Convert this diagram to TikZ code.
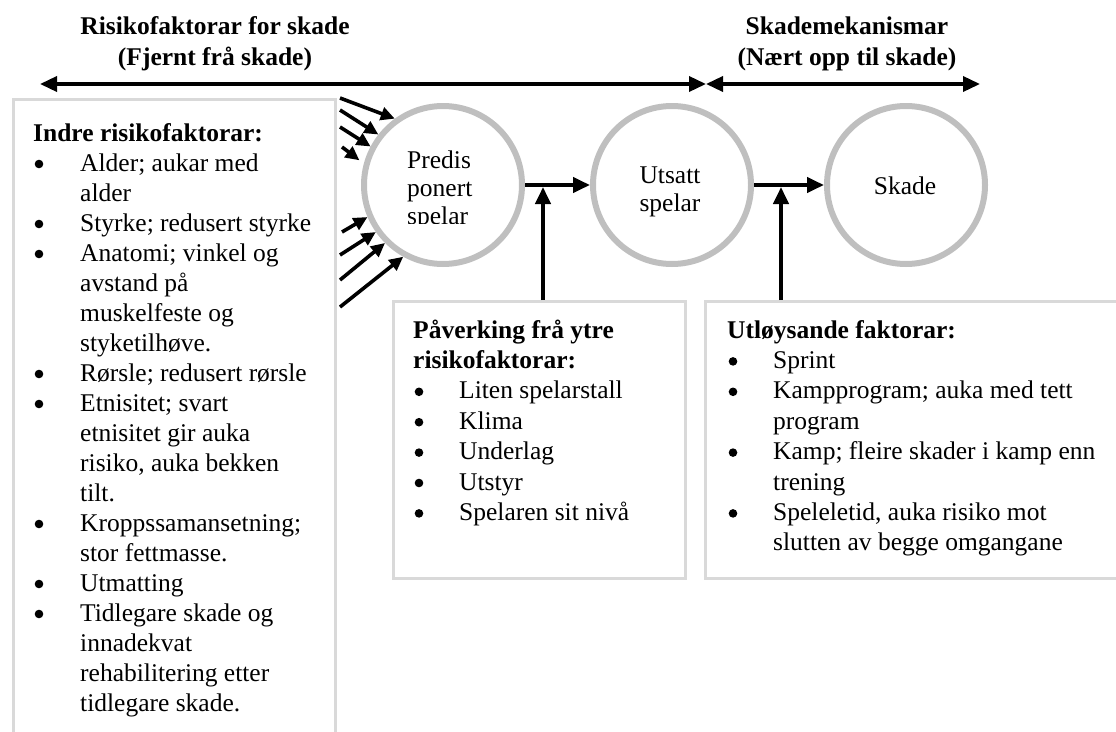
\documentclass[tikz,border=0pt]{standalone}
\usepackage{fontspec}
\setmainfont{Liberation Serif}
\usetikzlibrary{arrows.meta,calc}
\definecolor{boxgray}{RGB}{217,217,217}
\definecolor{circgray}{RGB}{191,191,191}
\begin{document}
\begin{tikzpicture}[x=1pt,y=-1pt,
  gbox/.style={draw=boxgray, line width=3pt, inner sep=0pt, anchor=north west},
  circ/.style={circle, draw=circgray, line width=6pt, minimum size=158pt, inner sep=0pt},
  bigarrow/.style={line width=4pt, -{Triangle[length=17pt,width=15pt]}},
  smallarrow/.style={line width=3.6pt, -{Triangle[length=14pt,width=13pt]}},
  toparrow/.style={line width=3.5pt, {Triangle[length=17pt,width=15pt]}-{Triangle[length=17pt,width=15pt]}},
  txt/.style={inner sep=0pt, font=\fontsize{25.5}{30}\selectfont},
  hdr/.style={inner sep=0pt, font=\fontsize{25.5}{31}\selectfont\bfseries, anchor=base},
  bulletdot/.style={fill=black},
]
\useasboundingbox (0,0) rectangle (1116,731);
\clip (0,0) rectangle (1116,731);

% headers
\node[hdr] (h1) at (215,34) {\begin{tabular}[t]{@{}c@{}}Risikofaktorar for skade\\(Fjernt frå skade)\end{tabular}};
\node[hdr] (h2) at (847,34) {\begin{tabular}[t]{@{}c@{}}Skademekanismar\\(Nært opp til skade)\end{tabular}};

% top arrows
\coordinate (L) at (40,84);
\coordinate (M) at (706,84);
\coordinate (R) at (980,84);
\draw[toparrow] (L) -- (M);
\draw[toparrow] (M) -- (R);

% boxes
\node[gbox, minimum width=322pt, minimum height=700pt] (inner) at (12,98) {};
\node[gbox, minimum width=292pt, minimum height=277pt] (ext) at (392,300) {};
\node[gbox, minimum width=440pt, minimum height=277pt] (trig) at (704,300) {};

% circles
\node[circ] (c1) at (443,185) {};
\node[circ] (c2) at (672,185) {};
\node[circ] (c3) at (906,185) {};

% circle texts
\begin{scope}
\clip (380,120) rectangle (510,223);
\node[inner sep=0pt, anchor=base west, font=\fontsize{25.5}{28}\selectfont] (t1) at (407,168)
  {\begin{tabular}[t]{@{}l@{}}Predis\\ponert\\spelar\end{tabular}};
\end{scope}
\node[inner sep=0pt, anchor=base, font=\fontsize{25.5}{28}\selectfont] (t2) at (670,183)
  {\begin{tabular}[t]{@{}c@{}}Utsatt\\spelar\end{tabular}};
\node[txt] (t3) at (905,186) {Skade};

% arrows between circles
\coordinate (j1) at (543,187);
\coordinate (j2) at (781,187);
\draw[bigarrow] (c1.east) -- (c2.west);
\draw[bigarrow] (c2.east) -- (c3.west);
\draw[bigarrow] (ext.north -| j1) -- (j1);
\draw[bigarrow] (trig.north -| j2) -- (j2);

% small arrows into circle 1
\coordinate (s1) at (340,98);
\coordinate (s2) at (340,110);
\coordinate (s3) at (340,127);
\coordinate (s4) at (342,147);
\coordinate (s5) at (342,232);
\coordinate (s6) at (340,255);
\coordinate (s7) at (340,280);
\coordinate (s8) at (340,307);
\draw[smallarrow] (s1) -- (c1.126);
\draw[smallarrow] (s2) -- (c1.142);
\draw[smallarrow] (s3) -- (c1.152);
\draw[smallarrow] (s4) -- ($(c1.161)+(-6,2)$);
\draw[smallarrow] (s5) -- (c1.203);
\draw[smallarrow] (s6) -- (c1.215);
\draw[smallarrow] (s7) -- (c1.225);
\draw[smallarrow] (s8) -- (c1.241);

% box texts
\node[txt, anchor=base west] (innertxt) at (33,141) {\begin{tabular}[t]{@{}p{47pt}@{}l@{}}
\multicolumn{2}{@{}l@{}}{\bfseries Indre risikofaktorar:}\\
 & Alder; aukar med\\
 & alder\\
 & Styrke; redusert styrke\\
 & Anatomi; vinkel og\\
 & avstand på\\
 & muskelfeste og\\
 & styketilhøve.\\
 & Rørsle; redusert rørsle\\
 & Etnisitet; svart\\
 & etnisitet gir auka\\
 & risiko, auka bekken\\
 & tilt.\\
 & Kroppssamansetning;\\
 & stor fettmasse.\\
 & Utmatting\\
 & Tidlegare skade og\\
 & innadekvat\\
 & rehabilitering etter\\
 & tidlegare skade.
\end{tabular}};
\foreach \r in {1,3,4,8,9,13,15,16}
  \fill[bulletdot] (39,{141+30*\r-7}) circle (4.3);

\node[txt, anchor=base west, font=\fontsize{25.5}{30.4}\selectfont] (exttxt) at (413,338) {\begin{tabular}[t]{@{}p{46pt}@{}l@{}}
\multicolumn{2}{@{}l@{}}{\bfseries Påverking frå ytre}\\
\multicolumn{2}{@{}l@{}}{\bfseries risikofaktorar:}\\
 & Liten spelarstall\\
 & Klima\\
 & Underlag\\
 & Utstyr\\
 & Spelaren sit nivå
\end{tabular}};
\foreach \r in {2,3,4,5,6}
  \fill[bulletdot] (419,{338+30.4*\r-7}) circle (4.3);

\node[txt, anchor=base west, font=\fontsize{25.5}{30.4}\selectfont] (trigtxt) at (727,338) {\begin{tabular}[t]{@{}p{46pt}@{}l@{}}
\multicolumn{2}{@{}l@{}}{\bfseries Utløysande faktorar:}\\
 & Sprint\\
 & Kampprogram; auka med tett\\
 & program\\
 & Kamp; fleire skader i kamp enn\\
 & trening\\
 & Speleletid, auka risiko mot\\
 & slutten av begge omgangane
\end{tabular}};
\foreach \r in {1,2,4,6}
  \fill[bulletdot] (733,{338+30.4*\r-7}) circle (4.3);
\end{tikzpicture}
\end{document}
